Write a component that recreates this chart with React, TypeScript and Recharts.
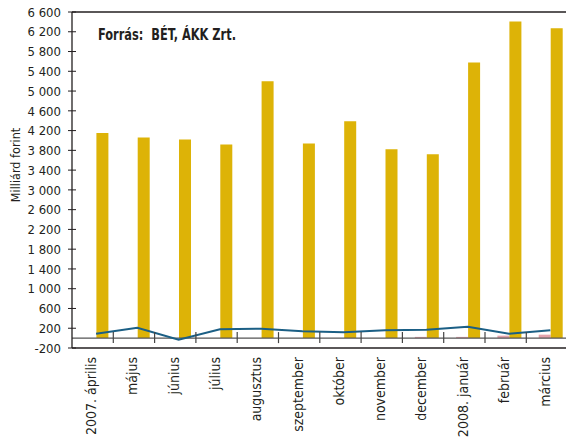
import { Bar, ComposedChart, Line, ReferenceLine, XAxis, YAxis } from "recharts";

const months = [
  "2007. április",
  "május",
  "június",
  "július",
  "augusztus",
  "szeptember",
  "október",
  "november",
  "december",
  "2008. január",
  "február",
  "március",
];
const goldValues = [4150, 4060, 4020, 3920, 5200, 3940, 4390, 3820, 3720, 5580, 6410, 6270];
const pinkValues = [0, 0, 0, 0, 0, 0, 0, 0, 25, 25, 50, 70];
const lineValues = [90, 210, -30, 180, 190, 140, 120, 160, 170, 230, 90, 160];
const yTicks = [-200, 200, 600, 1000, 1400, 1800, 2200, 2600, 3000, 3400, 3800, 4200, 4600, 5000, 5400, 5800, 6200, 6600];

const data = months.map((m, i) => ({
  month: m,
  gold: goldValues[i],
  pink: pinkValues[i],
  line: lineValues[i],
}));

const font = "'DejaVu Sans Condensed', 'Liberation Sans', sans-serif";
const ink = "#231f20";
const PLOT_TOP = 12;
const PLOT_BOTTOM = 348;
const SHIFT = 3.4;
// pixels between -200 and 0
const zeroGap = ((PLOT_BOTTOM - PLOT_TOP) * 200) / 6800;

const fmt = (v: number) => {
  const s = String(Math.abs(v));
  const g = s.length > 3 ? s.slice(0, -3) + " " + s.slice(-3) : s;
  return v < 0 ? "-" + g : g;
};

const YTick = (props: any) => {
  const { x, y, payload } = props;
  return (
    <g>
      <line x1={x - 4} x2={x + 4} y1={y} y2={y} stroke={ink} strokeWidth={1} />
      <text x={x - 11} y={y} dy="0.36em" textAnchor="end" fontSize={13} fill={ink} fontFamily={font}>
        {fmt(payload.value)}
      </text>
    </g>
  );
};

const XTick = (props: any) => {
  const { x, y, payload, index } = props;
  const half = payload.offset ?? 20.65;
  const zy = y - zeroGap;
  return (
    <g>
      {index < months.length - 1 && (
        <line x1={x + half - SHIFT} x2={x + half - SHIFT} y1={zy - 6} y2={zy + 5} stroke="#444" strokeWidth={1.2} />
      )}
      <g transform={`translate(${x - 5},${y + 9}) rotate(-90)`}>
        <text x={0} y={0} dy="0.36em" textAnchor="end" fontSize={14} fill={ink} fontFamily={font}>
          {payload.value}
        </text>
      </g>
    </g>
  );
};

export default function App() {
  return (
    <div
      style={{
        position: "absolute",
        left: 0,
        top: 0,
        width: 566,
        height: 437,
        overflow: "hidden",
        background: "#fff",
      }}
    >
      <ComposedChart
        width={571}
        height={437}
        data={data}
        margin={{ top: PLOT_TOP, right: 0, bottom: 0, left: 0 }}
        barGap={0}
      >
        <XAxis
          dataKey="month"
          interval={0}
          padding={{ left: SHIFT, right: 0 }}
          tickLine={false}
          tickSize={0}
          tickMargin={0}
          axisLine={{ stroke: ink, strokeWidth: 1.3 }}
          tick={<XTick />}
          height={437 - PLOT_BOTTOM}
        />
        <YAxis
          width={72}
          domain={[-200, 6600]}
          ticks={yTicks}
          interval={0}
          tickLine={false}
          tickSize={0}
          tickMargin={0}
          axisLine={{ stroke: ink, strokeWidth: 1.3 }}
          tick={<YTick />}
        />
        <ReferenceLine y={6600} stroke={ink} strokeWidth={1.3} />
        <Bar dataKey="pink" fill="#e3a3ac" barSize={12} isAnimationActive={false} />
        <Bar dataKey="gold" fill="#ddb307" barSize={12} isAnimationActive={false} />
        <ReferenceLine y={0} stroke="#555" strokeWidth={1.3} />
        <Line
          dataKey="line"
          type="linear"
          stroke="#1b5f85"
          strokeWidth={2}
          dot={false}
          isAnimationActive={false}
        />
        <text
          transform="translate(15,165) rotate(-90)"
          textAnchor="middle"
          dy="0.36em"
          fontSize={12.5}
          fill={ink}
          fontFamily={font}
        >
          Milliárd forint
        </text>
        <text
          x={98}
          y={40}
          fontSize={15}
          fontWeight="bold"
          fill={ink}
          fontFamily={font}
          textLength={138}
          lengthAdjust="spacingAndGlyphs"
          style={{ whiteSpace: "pre" }}
        >
          {"Forrás:  BÉT, ÁKK Zrt."}
        </text>
      </ComposedChart>
    </div>
  );
}
